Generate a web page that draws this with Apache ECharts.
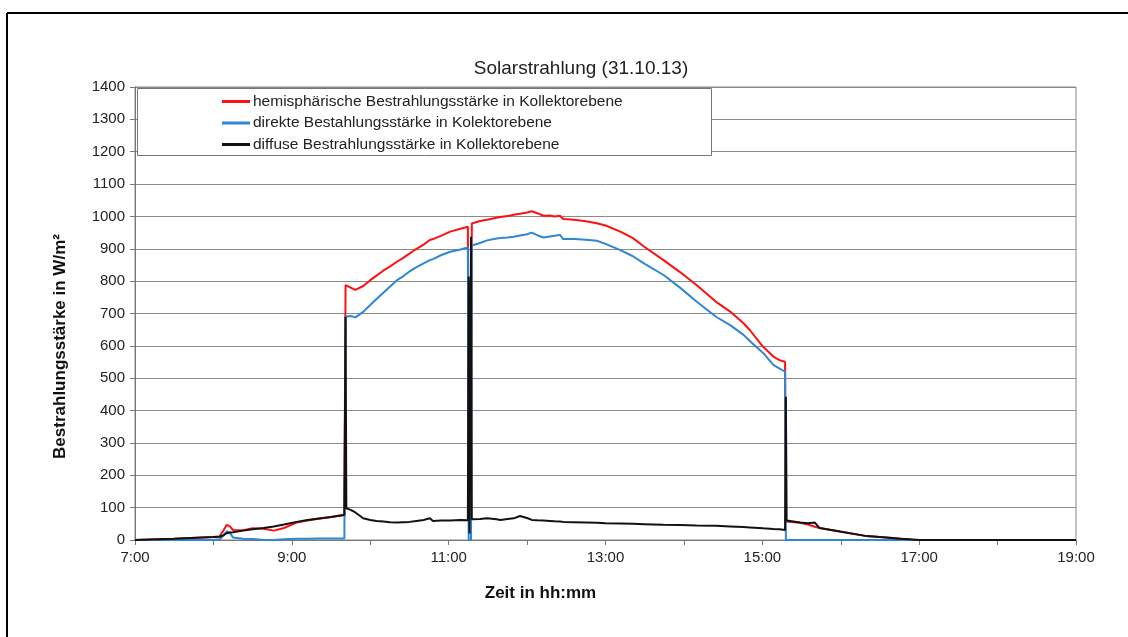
<!DOCTYPE html>
<html>
<head>
<meta charset="utf-8">
<script src="https://cdn.jsdelivr.net/npm/echarts@6/dist/echarts.min.js"></script>
<style>
html,body{margin:0;padding:0;background:#fff;}
#chart{width:1128px;height:637px;}
</style>
</head>
<body>
<div id="chart"></div>
<script>
// Time in hours (decimal)
const times = [7.0,7.5,8.0,8.08,8.13,8.17,8.21,8.25,8.38,8.5,8.64,8.77,8.9,9.06,9.2,9.32,9.5,9.67,9.685,9.695,9.75,9.81,9.91,10.0,10.08,10.17,10.25,10.34,10.42,10.5,10.59,10.68,10.76,10.8,10.9,11.02,11.15,11.245,11.255,11.265,11.285,11.295,11.32,11.4,11.49,11.61,11.66,11.75,11.83,11.91,12.0,12.06,12.13,12.21,12.29,12.35,12.42,12.46,12.6,12.75,12.89,13.0,13.19,13.35,13.49,13.74,13.95,14.16,14.41,14.59,14.76,14.84,15.01,15.14,15.22,15.29,15.30,15.31,15.48,15.58,15.67,15.73,15.99,16.33,16.58,16.75,16.88,17.0,19.0];
const hemisphaerisch = [0,4,9,12,30,47,42,31,30,36,35,29,37,54,60,65,71,78,788,786,780,773,785,803,817,833,845,860,872,885,900,913,927,930,940,953,962,968,90,90,90,978,979,986,990,996,998,1001,1005,1008,1012,1016,1010,1002,1003,1000,1002,992,990,985,979,972,953,933,907,865,828,788,736,706,670,649,597,567,556,551,57,57,53,48,41,37,26,12,8,5,1,0,0];
const direkt = [0,0,0,2,14,27,22,8,4,3,0,0,2,4,4,5,5,5,690,692,692,688,705,726,745,765,783,803,815,830,843,855,865,868,880,891,898,904,0,0,0,910,912,918,926,932,933,935,937,941,945,950,942,935,938,940,943,930,930,928,925,915,896,877,855,819,780,737,690,664,634,615,578,541,530,520,0,0,0,0,0,0,0,0,0,0,0,0,0];
const diffus = [0,4,9,10,15,21,23,24,29,33,37,42,48,56,62,66,71,77,690,98,93,85,67,62,59,57,55,54,55,56,59,62,67,59,60,60,62,61,814,20,937,64,64,65,67,64,62,65,67,74,68,62,61,60,59,58,57,56,55,54,53,52,51,50,49,47,46,45,44,42,40,39,36,34,33,31,443,60,54,52,54,37,26,12,8,4,2,0,0];

const seriesNames = [
  'hemisphärische Bestrahlungsstärke in Kollektorebene',
  'direkte Bestahlungsstärke in Kolektorebene',
  'diffuse Bestrahlungsstärke in Kollektorebene'
];
const chartTitle = 'Solarstrahlung (31.10.13)';
const xName = 'Zeit in hh:mm';
const yName = 'Bestrahlungsstärke in W/m²';

function pairs(vals){ return times.map((t,i)=>[t, vals[i]]); }

const font = 'Liberation Sans, Arial, sans-serif';
const lineIcon = 'path://M0 0H28V3H0Z';
const chart = echarts.init(document.getElementById('chart'));
chart.setOption({
  animation: false,
  backgroundColor: '#fff',
  title: {
    text: chartTitle,
    left: 576, top: 54,
    textAlign: 'center',
    textStyle: {fontFamily: font, fontSize: 19, fontWeight: 'normal', color: '#222'}
  },
  graphic: [
    {type: 'line', shape: {x1: 7, y1: 13, x2: 1128, y2: 13}, style: {stroke: '#000', lineWidth: 2}},
    {type: 'line', shape: {x1: 7, y1: 13, x2: 7, y2: 637}, style: {stroke: '#000', lineWidth: 2}},
    {type: 'rect', z: 3, shape: {x: 137.5, y: 88.5, width: 574, height: 67}, style: {fill: '#fff', stroke: '#777', lineWidth: 1}}
  ],
  legend: {
    orient: 'vertical',
    left: 222, top: 93.5,
    z: 6,
    itemWidth: 28, itemHeight: 3, itemGap: 5.5,
    padding: 0,
    textStyle: {fontFamily: font, fontSize: 15.5, lineHeight: 16, color: '#222', padding: [0,0,0,-2]},
    data: seriesNames.map(n => ({name: n, icon: lineIcon}))
  },
  grid: {left: 135, right: 52, top: 87, bottom: 97, show: true, borderColor: '#888', borderWidth: 1},
  xAxis: {
    type: 'value', min: 7, max: 19, interval: 1,
    name: xName, nameLocation: 'middle', nameGap: 45,
    nameTextStyle: {fontFamily: font, fontSize: 17, fontWeight: 'bold', color: '#111', padding: [0,130,0,0]},
    axisLine: {show: true, onZero: false, lineStyle: {color: '#777', width: 1}},
    axisTick: {show: true, length: 5, lineStyle: {color: '#777'}},
    splitLine: {show: false},
    axisLabel: {
      fontFamily: font, fontSize: 15, color: '#222', margin: 10,
      showMaxLabel: true, showMinLabel: true,
      formatter: v => (Math.round(v) % 2 === 1) ? (Math.round(v) + ':00') : ''
    }
  },
  yAxis: {
    type: 'value', min: 0, max: 1400, interval: 100,
    name: yName, nameLocation: 'middle', nameGap: 66,
    nameTextStyle: {fontFamily: font, fontSize: 17, fontWeight: 'bold', color: '#111', padding: [0,66,0,0]},
    axisLine: {show: true, lineStyle: {color: '#777', width: 1}},
    axisTick: {show: true, length: 5, lineStyle: {color: '#777'}},
    splitLine: {show: true, lineStyle: {color: '#8a8a8a', width: 1}},
    axisLabel: {fontFamily: font, fontSize: 15, color: '#222', margin: 10, formatter: v => String(v)}
  },
  series: [
    {name: seriesNames[0], type: 'line', data: pairs(hemisphaerisch), symbol: 'none', color: '#ff1010', lineStyle: {width: 2, color: '#ff1010'}, z: 2},
    {name: seriesNames[1], type: 'line', data: pairs(direkt), symbol: 'none', color: '#2f86d2', lineStyle: {width: 2, color: '#2f86d2'}, z: 2},
    {name: seriesNames[2], type: 'line', data: pairs(diffus), symbol: 'none', color: '#111', lineStyle: {width: 2, color: '#111'}, z: 2}
  ]
});
</script>
</body>
</html>
